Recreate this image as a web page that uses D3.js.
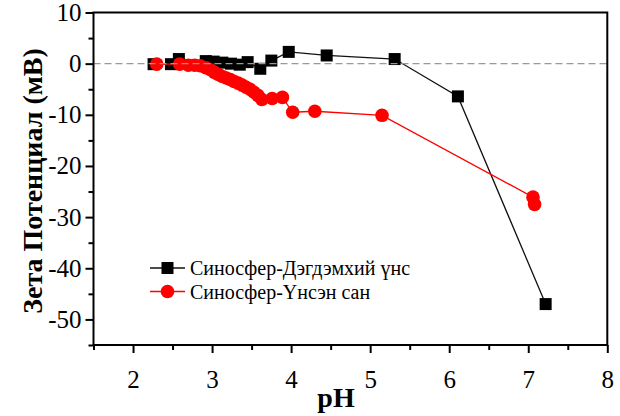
<!DOCTYPE html>
<meta charset="UTF-8">
<title>Zeta potential vs pH</title>
<style>
  body { margin: 0; background: #fff; }
  text { font-family: "Liberation Serif", "Times New Roman", serif; }
</style>
<svg width="620" height="416"></svg>
<script src="https://d3js.org/d3.v7.min.js"></script>
<script>
// Синосфер-Дэгдэмхий үнс (black squares)
var ashPH   = [2.26, 2.48, 2.58, 2.92, 3.02, 3.13, 3.24, 3.35, 3.45, 3.61, 3.75, 3.97, 4.45, 5.31, 6.11, 7.22];
var ashZeta = [-0.1, -0.1, 0.9, 0.5, 0.4, 0.2, 0.0, -0.2, 0.3, -1.0, 0.6, 2.3, 1.6, 0.9, -6.4, -47.0];

// Синосфер-Үнсэн сан (red circles)
var fundPH   = [2.30, 2.59, 2.70, 2.78, 2.85, 2.92, 2.98, 3.03, 3.08, 3.13, 3.18, 3.23, 3.28, 3.33, 3.38, 3.43, 3.48, 3.53, 3.58, 3.63, 3.76, 3.89, 4.02, 4.30, 5.15, 7.06, 7.08];
var fundZeta = [-0.1, -0.1, -0.3, -0.3, -0.4, -0.8, -1.2, -1.7, -2.1, -2.5, -2.8, -3.1, -3.5, -3.8, -4.2, -4.6, -5.0, -5.6, -6.2, -7.0, -6.8, -6.6, -9.5, -9.3, -10.1, -26.1, -27.5];

var xTicks = [2, 3, 4, 5, 6, 7, 8];
var xMinor = [1.5, 2.5, 3.5, 4.5, 5.5, 6.5, 7.5];
var yTicks = [10, 0, -10, -20, -30, -40, -50];
var yMinor = [5, -5, -15, -25, -35, -45, -55];

var seriesNames = ["Синосфер-Дэгдэмхий үнс", "Синосфер-Үнсэн сан"];
var xTitle = "pH";
var yTitle = "Зета Потенциал (мВ)";

var svg = d3.select("svg");
var mLeft = 93.5, mRight = 607.3, mTop = 12.5, mBottom = 345;

var x = d3.scaleLinear().domain([1.5, 8]).range([mLeft, mRight]);
var y = d3.scaleLinear().domain([-55, 10]).range([mBottom, mTop]);

var ash = ashPH.map(function(d, i) { return {x: d, y: ashZeta[i]}; });
var fund = fundPH.map(function(d, i) { return {x: d, y: fundZeta[i]}; });

var line = d3.line()
    .x(function(d) { return x(d.x); })
    .y(function(d) { return y(d.y); });

// black series
svg.append("path")
    .datum(ash)
    .attr("fill", "none")
    .attr("stroke", "#111")
    .attr("stroke-width", 1.3)
    .attr("d", line);

svg.selectAll(".sq")
    .data(ash)
  .enter().append("rect")
    .attr("class", "sq")
    .attr("x", function(d) { return x(d.x) - 6; })
    .attr("y", function(d) { return y(d.y) - 6; })
    .attr("width", 12)
    .attr("height", 12)
    .attr("fill", "#000");

// red series
svg.append("path")
    .datum(fund)
    .attr("fill", "none")
    .attr("stroke", "#ff0000")
    .attr("stroke-width", 1.3)
    .attr("d", line);

svg.selectAll(".dot")
    .data(fund)
  .enter().append("circle")
    .attr("class", "dot")
    .attr("cx", function(d) { return x(d.x); })
    .attr("cy", function(d) { return y(d.y); })
    .attr("r", 6.8)
    .attr("fill", "#ff0000");

// zero line
svg.append("line")
    .attr("x1", mLeft).attr("x2", mRight)
    .attr("y1", y(0)).attr("y2", y(0))
    .attr("stroke", "#999")
    .attr("stroke-width", 1.3)
    .attr("stroke-dasharray", "7,4");

// axes
var fmt = function(d) { return String(d); };  // plain hyphen minus like the original

function styleAxis(g) {
  g.attr("font-family", null).attr("font-size", null);
  g.select(".domain").remove();
  g.selectAll("line").attr("stroke", "#000").attr("stroke-width", 2);
  g.selectAll("text")
      .attr("fill", "#000")
      .attr("font-family", "Liberation Serif")
      .attr("font-size", 25);
}

svg.append("g")
    .attr("transform", "translate(0," + mBottom + ")")
    .call(d3.axisBottom(x).tickValues(xTicks).tickSize(8).tickPadding(17).tickFormat(fmt))
    .call(styleAxis);

svg.append("g")
    .attr("transform", "translate(0," + mBottom + ")")
    .call(d3.axisBottom(x).tickValues(xMinor).tickSize(5).tickFormat(""))
    .call(styleAxis);

svg.append("g")
    .attr("transform", "translate(" + mLeft + ",0)")
    .call(d3.axisLeft(y).tickValues(yTicks).tickSize(8).tickPadding(4).tickFormat(fmt))
    .call(styleAxis);

svg.append("g")
    .attr("transform", "translate(" + mLeft + ",0)")
    .call(d3.axisLeft(y).tickValues(yMinor).tickSize(5).tickFormat(""))
    .call(styleAxis);

// frame
svg.append("rect")
    .attr("x", mLeft).attr("y", mTop)
    .attr("width", mRight - mLeft).attr("height", mBottom - mTop)
    .attr("fill", "none")
    .attr("stroke", "#000")
    .attr("stroke-width", 2);

// titles
svg.append("text")
    .attr("x", 336)
    .attr("y", 407)
    .attr("text-anchor", "middle")
    .attr("font-family", "Liberation Serif")
    .attr("font-size", 28)
    .attr("font-weight", "bold")
    .text(xTitle);

svg.append("text")
    .attr("transform", "translate(42,181) rotate(-90)")
    .attr("text-anchor", "middle")
    .attr("font-family", "Liberation Serif")
    .attr("font-size", 28)
    .attr("font-weight", "bold")
    .text(yTitle);

// legend
var legend = svg.append("g").attr("transform", "translate(150,268)");
var rows = legend.selectAll("g")
    .data(seriesNames)
  .enter().append("g")
    .attr("transform", function(d, i) { return "translate(0," + i * 23.5 + ")"; });

rows.append("line")
    .attr("x1", 0).attr("x2", 35)
    .attr("stroke", function(d, i) { return i ? "#ff0000" : "#111"; })
    .attr("stroke-width", 1.3);

rows.each(function(d, i) {
  var r = d3.select(this);
  if (i === 0) {
    r.append("rect").attr("x", 11.5).attr("y", -6).attr("width", 12).attr("height", 12).attr("fill", "#000");
  } else {
    r.append("circle").attr("cx", 17.5).attr("cy", 0).attr("r", 6.8).attr("fill", "#ff0000");
  }
});

rows.append("text")
    .attr("x", 40)
    .attr("dy", "0.35em")
    .attr("font-family", "Liberation Serif")
    .attr("font-size", 20)
    .text(function(d) { return d; });
</script>
